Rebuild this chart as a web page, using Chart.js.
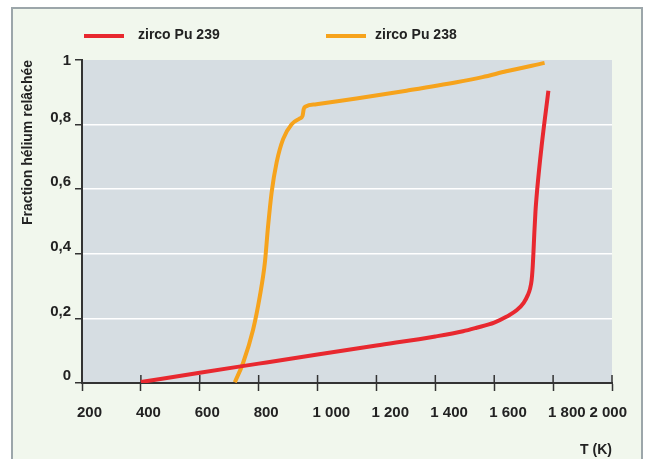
<!DOCTYPE html>
<html lang="fr">
<head>
<meta charset="utf-8">
<title>Fraction hélium relâchée</title>
<script src="https://cdn.jsdelivr.net/npm/chart.js@4.4.1/dist/chart.umd.min.js"></script>
<style>
  html, body { margin: 0; padding: 0; background: #fff; }
  body { width: 646px; height: 459px; position: relative; overflow: hidden; }
  #frame { position: absolute; left: 11px; top: 7px; width: 628px; height: 470px; background: #f1f7ed; border: 2px solid #9ca6aa; }
  #wrap { position: absolute; left: 0; top: 0; width: 646px; height: 459px; }
</style>
</head>
<body>
<div id="frame"></div>
<div id="wrap"><canvas id="chart" width="646" height="459"></canvas></div>
<script>
// --- data ---
const seriesNames = ['zirco Pu 239', 'zirco Pu 238'];

const pu239Temp = [400, 600, 800, 1000, 1200, 1400, 1494, 1540, 1600, 1641, 1676, 1700, 1714, 1722, 1727, 1730, 1733, 1736, 1740, 1746, 1761, 1784];
const pu239Frac = [0.003, 0.032, 0.06, 0.088, 0.116, 0.144, 0.16, 0.171, 0.187, 0.205, 0.225, 0.248, 0.272, 0.293, 0.318, 0.35, 0.4, 0.46, 0.53, 0.6, 0.734, 0.905];

const pu238Temp = [719, 747, 781, 804, 821, 832, 844, 861, 883, 912, 940, 949, 953, 960, 996, 1132, 1302, 1472, 1560, 1641, 1771];
const pu238Frac = [0.002, 0.062, 0.165, 0.269, 0.372, 0.486, 0.59, 0.683, 0.755, 0.801, 0.819, 0.827, 0.848, 0.856, 0.863, 0.881, 0.905, 0.931, 0.947, 0.965, 0.991];

const xTickLabels = ['200', '400', '600', '800', '1 000', '1 200', '1 400', '1 600', '1 800', '2 000'];
const yTickLabels = ['0', '0,2', '0,4', '0,6', '0,8', '1'];

const FONT = '"Liberation Sans", Arial, sans-serif';
const INK = '#222';
const AXIS = '#333';

const toPoints = (xs, ys) => xs.map((x, i) => ({ x, y: ys[i] }));

// gray plot background
const plotBg = {
    id: 'plotBg',
    beforeDraw(chart) {
        const { ctx, chartArea: a } = chart;
        ctx.save();
        ctx.fillStyle = '#d6dde2';
        ctx.fillRect(a.left, a.top, a.right - a.left, a.bottom - a.top);
        ctx.restore();
    },
    // upper half of the x ticks, crossing the axis
    beforeDatasetsDraw(chart) {
        const { ctx, scales: { x }, chartArea: a } = chart;
        ctx.save();
        ctx.strokeStyle = AXIS;
        ctx.lineWidth = 1.5;
        ctx.beginPath();
        x.ticks.forEach(t => {
            const px = x.getPixelForValue(t.value);
            ctx.moveTo(px, a.bottom - 8);
            ctx.lineTo(px, a.bottom);
        });
        ctx.stroke();
        ctx.restore();
    }
};

// tick labels + legend
const labels = {
    id: 'labels',
    afterDraw(chart) {
        const { ctx, scales: { x, y }, chartArea: a } = chart;
        ctx.save();
        ctx.fillStyle = INK;
        ctx.font = 'bold 15px ' + FONT;
        ctx.textBaseline = 'middle';

        ctx.textAlign = 'left';
        x.ticks.forEach(t => {
            const px = x.getPixelForValue(t.value);
            const w = ctx.measureText(t.label).width;
            ctx.fillText(t.label, Math.min(px - 5, a.right + 15 - w), a.bottom + 30);
        });

        ctx.textAlign = 'right';
        y.ticks.forEach(t => {
            const py = y.getPixelForValue(t.value);
            ctx.fillText(t.label, a.left - 11, Math.max(py - 7, a.top + 1));
        });

        // legend
        const slots = [{ line: 84, text: 138 }, { line: 326, text: 375 }];
        ctx.font = 'bold 14px ' + FONT;
        ctx.textAlign = 'left';
        chart.data.datasets.forEach((ds, i) => {
            const s = slots[i];
            ctx.strokeStyle = ds.borderColor;
            ctx.lineWidth = 4;
            ctx.beginPath();
            ctx.moveTo(s.line, 36);
            ctx.lineTo(s.line + 40, 36);
            ctx.stroke();
            ctx.fillText(ds.label, s.text, 35);
        });
        ctx.restore();
    }
};

new Chart(document.getElementById('chart'), {
    type: 'line',
    data: {
        datasets: [
            {
                label: seriesNames[0],
                data: toPoints(pu239Temp, pu239Frac),
                borderColor: '#e8282f',
                borderWidth: 4,
                pointRadius: 0,
                cubicInterpolationMode: 'monotone',
                fill: false
            },
            {
                label: seriesNames[1],
                data: toPoints(pu238Temp, pu238Frac),
                borderColor: '#f6a31c',
                borderWidth: 4,
                pointRadius: 0,
                cubicInterpolationMode: 'monotone',
                fill: false
            }
        ]
    },
    options: {
        responsive: false,
        animation: false,
        layout: { padding: { left: 18, right: 34, top: 60, bottom: 0 } },
        plugins: { legend: { display: false }, tooltip: { enabled: false } },
        scales: {
            x: {
                type: 'linear',
                min: 200,
                max: 2000,
                ticks: { stepSize: 200, display: false, callback: (v, i) => xTickLabels[i] },
                grid: { drawOnChartArea: false, tickLength: 8, tickColor: AXIS, tickWidth: 1.5 },
                border: { color: AXIS, width: 2 },
                title: {
                    display: true, text: 'T (K)', align: 'end', color: INK,
                    font: { family: FONT, size: 14, weight: 'bold' },
                    padding: { top: 0, bottom: 0 }
                },
                afterFit: s => { s.height = 76; }
            },
            y: {
                min: 0,
                max: 1,
                ticks: { stepSize: 0.2, display: false, callback: (v, i) => yTickLabels[i] },
                grid: {
                    color: c => (c.index > 0 && c.index < 5) ? '#ffffff' : 'rgba(0,0,0,0)',
                    lineWidth: 1.5,
                    tickLength: 7,
                    tickColor: AXIS,
                    tickWidth: 1.5
                },
                border: { color: AXIS, width: 2 },
                title: {
                    display: true, text: 'Fraction hélium relâchée', align: 'end', color: INK,
                    font: { family: FONT, size: 14, weight: 'bold' },
                    padding: { top: 2, bottom: 0 }
                },
                afterFit: s => { s.width = 64; }
            }
        }
    },
    plugins: [plotBg, labels]
});
</script>
</body>
</html>
